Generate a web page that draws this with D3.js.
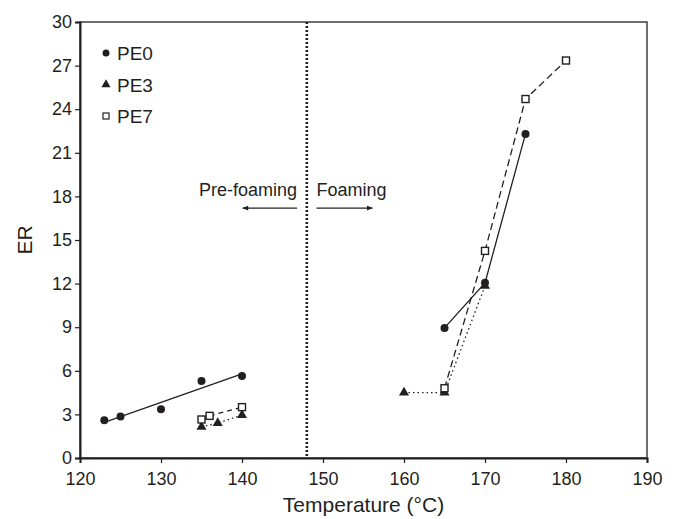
<!DOCTYPE html>
<html>
<head>
<meta charset="utf-8">
<script src="https://cdn.jsdelivr.net/npm/d3@7"></script>
<style>
  body { margin: 0; background: #fff; }
  svg { font-family: "Liberation Sans", Arial, sans-serif; }
</style>
</head>
<body>
<div id="chart"></div>
<script>
// PE0 pre-foaming points (fitted with a linear trendline) and foaming points
const pe0PreT = [123, 125, 130, 135, 140];
const pe0PreER = [2.6, 2.85, 3.35, 5.3, 5.65];
const pe0FoamT = [165, 170, 175];
const pe0FoamER = [8.95, 12.05, 22.3];

const pe3PreT = [135, 137, 140];
const pe3PreER = [2.15, 2.4, 2.95];
const pe3FoamT = [160, 165, 170];
const pe3FoamER = [4.5, 4.5, 11.85];

const pe7PreT = [135, 136, 140];
const pe7PreER = [2.65, 2.9, 3.5];
const pe7FoamT = [165, 170, 175, 180];
const pe7FoamER = [4.8, 14.25, 24.7, 27.35];

const xTicks = [120, 130, 140, 150, 160, 170, 180, 190];
const yTicks = [0, 3, 6, 9, 12, 15, 18, 21, 24, 27, 30];
const legendNames = ["PE0", "PE3", "PE7"];
const boundaryT = 148;

const margin = { top: 22, right: 29, bottom: 61, left: 80 };
const width = 676 - margin.left - margin.right;
const height = 519 - margin.top - margin.bottom;
const ink = "#231f20";

const xScale = d3.scaleLinear().domain([120, 190]).range([0, width]);
const yScale = d3.scaleLinear().domain([0, 30]).range([height, 0]);

const svg = d3.select("#chart")
  .append("svg")
    .attr("width", 676)
    .attr("height", 519)
  .append("g")
    .attr("transform", `translate(${margin.left}, ${margin.top})`);

const zip = (ts, vs) => ts.map((t, i) => ({ t: t, v: vs[i] }));

// frame
svg.append("rect")
  .attr("width", width)
  .attr("height", height)
  .attr("fill", "none")
  .attr("stroke", ink)
  .attr("stroke-width", 1.3);

const xAxis = d3.axisBottom(xScale).tickValues(xTicks).tickSize(5).tickFormat(d3.format("d"));
const yAxis = d3.axisLeft(yScale).tickValues(yTicks).tickSize(5).tickFormat(d3.format("d"));

const gx = svg.append("g")
  .attr("transform", "translate(0," + height + ")")
  .call(xAxis);
const gy = svg.append("g").call(yAxis);

[gx, gy].forEach(g => {
  g.select(".domain").attr("stroke", ink).attr("stroke-width", 2);
  g.selectAll(".tick line").attr("stroke", ink).attr("stroke-width", 1.2);
  g.selectAll(".tick text")
    .attr("fill", ink)
    .style("font-size", "18px")
    .style("font-family", "'Liberation Sans', Arial, sans-serif");
});
gx.selectAll(".tick text").attr("dy", "1.05em");
gy.selectAll(".tick text").attr("x", -8);

// axis titles
svg.append("text")
  .attr("x", width / 2)
  .attr("y", height + 54)
  .attr("text-anchor", "middle")
  .attr("fill", ink)
  .style("font-size", "21px")
  .text("Temperature (°C)");

svg.append("text")
  .attr("transform", `translate(${-48}, ${height / 2}) rotate(-90)`)
  .attr("text-anchor", "middle")
  .attr("fill", ink)
  .style("font-size", "21px")
  .text("ER");

// boundary line
svg.append("line")
  .attr("x1", xScale(boundaryT))
  .attr("x2", xScale(boundaryT))
  .attr("y1", 0)
  .attr("y2", height)
  .attr("stroke", ink)
  .attr("stroke-width", 2.6)
  .attr("stroke-dasharray", "2,2");

// arrows + labels
svg.append("defs").append("marker")
  .attr("id", "arrow")
  .attr("viewBox", "0 0 10 10")
  .attr("refX", 9)
  .attr("refY", 5)
  .attr("markerWidth", 7)
  .attr("markerHeight", 6)
  .attr("markerUnits", "userSpaceOnUse")
  .attr("orient", "auto")
  .append("path")
    .attr("d", "M0,1 L10,5 L0,9 Z")
    .attr("fill", ink);

const arrowY = yScale(17.2);
svg.append("line")
  .attr("x1", xScale(146.8)).attr("x2", xScale(140.1))
  .attr("y1", arrowY).attr("y2", arrowY)
  .attr("stroke", ink).attr("stroke-width", 1.3)
  .attr("marker-end", "url(#arrow)");
svg.append("line")
  .attr("x1", xScale(149.2)).attr("x2", xScale(156.1))
  .attr("y1", arrowY).attr("y2", arrowY)
  .attr("stroke", ink).attr("stroke-width", 1.3)
  .attr("marker-end", "url(#arrow)");

svg.append("text")
  .attr("x", xScale(146.8))
  .attr("y", yScale(18))
  .attr("text-anchor", "end")
  .attr("fill", ink)
  .style("font-size", "18px")
  .text("Pre-foaming");
svg.append("text")
  .attr("x", xScale(149.2))
  .attr("y", yScale(18))
  .attr("fill", ink)
  .style("font-size", "18px")
  .text("Foaming");

// lines
const line = d3.line().x(d => xScale(d.t)).y(d => yScale(d.v));

// PE0 linear trendline through pre-foaming points
const pre0 = zip(pe0PreT, pe0PreER);
const mt = d3.mean(pre0, d => d.t);
const mv = d3.mean(pre0, d => d.v);
const slope = d3.sum(pre0, d => (d.t - mt) * (d.v - mv)) / d3.sum(pre0, d => (d.t - mt) * (d.t - mt));
const tExt = d3.extent(pe0PreT);
const trend = tExt.map(t => ({ t: t, v: mv + slope * (t - mt) }));

const lineSets = [
  { pts: trend, dash: null },
  { pts: zip(pe0FoamT, pe0FoamER), dash: null },
  { pts: zip(pe3PreT, pe3PreER), dash: "1.5,3" },
  { pts: zip(pe3FoamT, pe3FoamER), dash: "1.5,3" },
  { pts: zip(pe7PreT, pe7PreER), dash: "5,4" },
  { pts: zip(pe7FoamT, pe7FoamER), dash: "7,4" }
];

svg.selectAll(".series-line")
  .data(lineSets)
  .enter()
  .append("path")
  .attr("class", "series-line")
  .attr("d", d => line(d.pts))
  .attr("fill", "none")
  .attr("stroke", ink)
  .attr("stroke-width", 1.3)
  .attr("stroke-dasharray", d => d.dash);

// markers
const triangle = d3.symbol().type(d3.symbolTriangle).size(44);

function drawCircles(pts) {
  svg.append("g").selectAll("circle")
    .data(pts)
    .enter()
    .append("circle")
    .attr("cx", d => xScale(d.t))
    .attr("cy", d => yScale(d.v))
    .attr("r", 4)
    .attr("fill", ink);
}
function drawTriangles(pts) {
  svg.append("g").selectAll("path")
    .data(pts)
    .enter()
    .append("path")
    .attr("d", triangle)
    .attr("transform", d => `translate(${xScale(d.t)}, ${yScale(d.v)})`)
    .attr("fill", ink);
}
function drawSquares(pts) {
  svg.append("g").selectAll("rect")
    .data(pts)
    .enter()
    .append("rect")
    .attr("x", d => xScale(d.t) - 3.5)
    .attr("y", d => yScale(d.v) - 3.5)
    .attr("width", 7)
    .attr("height", 7)
    .attr("fill", "#fff")
    .attr("stroke", ink)
    .attr("stroke-width", 1.4);
}

drawTriangles(zip(pe3PreT, pe3PreER).concat(zip(pe3FoamT, pe3FoamER)));
drawSquares(zip(pe7PreT, pe7PreER).concat(zip(pe7FoamT, pe7FoamER)));
drawCircles(pre0.concat(zip(pe0FoamT, pe0FoamER)));

// legend
const legend = svg.append("g").attr("transform", "translate(26, 31)");
legendNames.forEach((name, i) => {
  const g = legend.append("g").attr("transform", `translate(0, ${i * 31.5})`);
  if (i === 0) g.append("circle").attr("r", 3.5).attr("fill", ink);
  if (i === 1) g.append("path").attr("d", d3.symbol().type(d3.symbolTriangle).size(36)).attr("fill", ink);
  if (i === 2) g.append("rect").attr("x", -3).attr("y", -3).attr("width", 6).attr("height", 6)
    .attr("fill", "#fff").attr("stroke", ink).attr("stroke-width", 1.2);
  g.append("text")
    .attr("x", 11)
    .attr("y", 7)
    .attr("fill", ink)
    .style("font-size", "19px")
    .text(name);
});
</script>
</body>
</html>
